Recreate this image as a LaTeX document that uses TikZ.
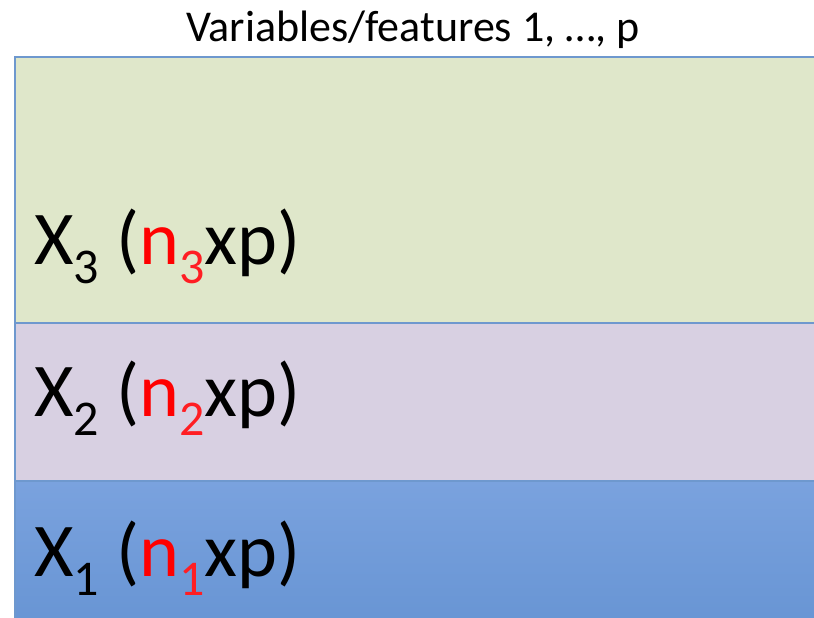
\documentclass[tikz,border=0pt]{standalone}
\usepackage{fontspec}
\setmainfont{Carlito}
\definecolor{bandgreen}{RGB}{223,231,202}
\definecolor{bandpurple}{RGB}{216,208,226}
\definecolor{bluetop}{RGB}{122,162,222}
\definecolor{bluebot}{RGB}{104,149,212}
\definecolor{edgeblue}{RGB}{110,152,206}
\definecolor{subred}{RGB}{255,30,35}
\tikzset{
  band/.style={draw=edgeblue, line width=1.5pt},
  big/.style={anchor=base west, inner sep=0pt, font=\fontsize{76}{76}\selectfont},
  titletext/.style={anchor=base, inner sep=0pt, font=\fontsize{44}{44}\selectfont}
}
\newcommand{\sbs}[1]{\raisebox{-19pt}{\fontsize{50}{50}\selectfont #1}}
\begin{document}
\begin{tikzpicture}[x=1pt,y=1pt]
\useasboundingbox (0,0) rectangle (814,618);
\fill[white] (0,0) rectangle (814,618);
% bands (y measured from top: 57, 323, 481)
\path[band, top color=bluetop, bottom color=bluebot] (15,-5) rectangle (830,137);
\path[band, fill=bandpurple] (15,137) rectangle (830,295);
\path[band, fill=bandgreen] (15,295) rectangle (830,561);
\node[titletext] (title) at (413,576) {Variables/features 1, …, p};
\node[big] (x3) at (34,353) {X\sbs{3} (\textcolor{red}{n}\textcolor{subred}{\sbs{3}}xp)};
\node[big] (x2) at (34,201) {X\sbs{2} (\textcolor{red}{n}\textcolor{subred}{\sbs{2}}xp)};
\node[big] (x1) at (34,41) {X\sbs{1} (\textcolor{red}{n}\textcolor{subred}{\sbs{1}}xp)};
\end{tikzpicture}
\end{document}
